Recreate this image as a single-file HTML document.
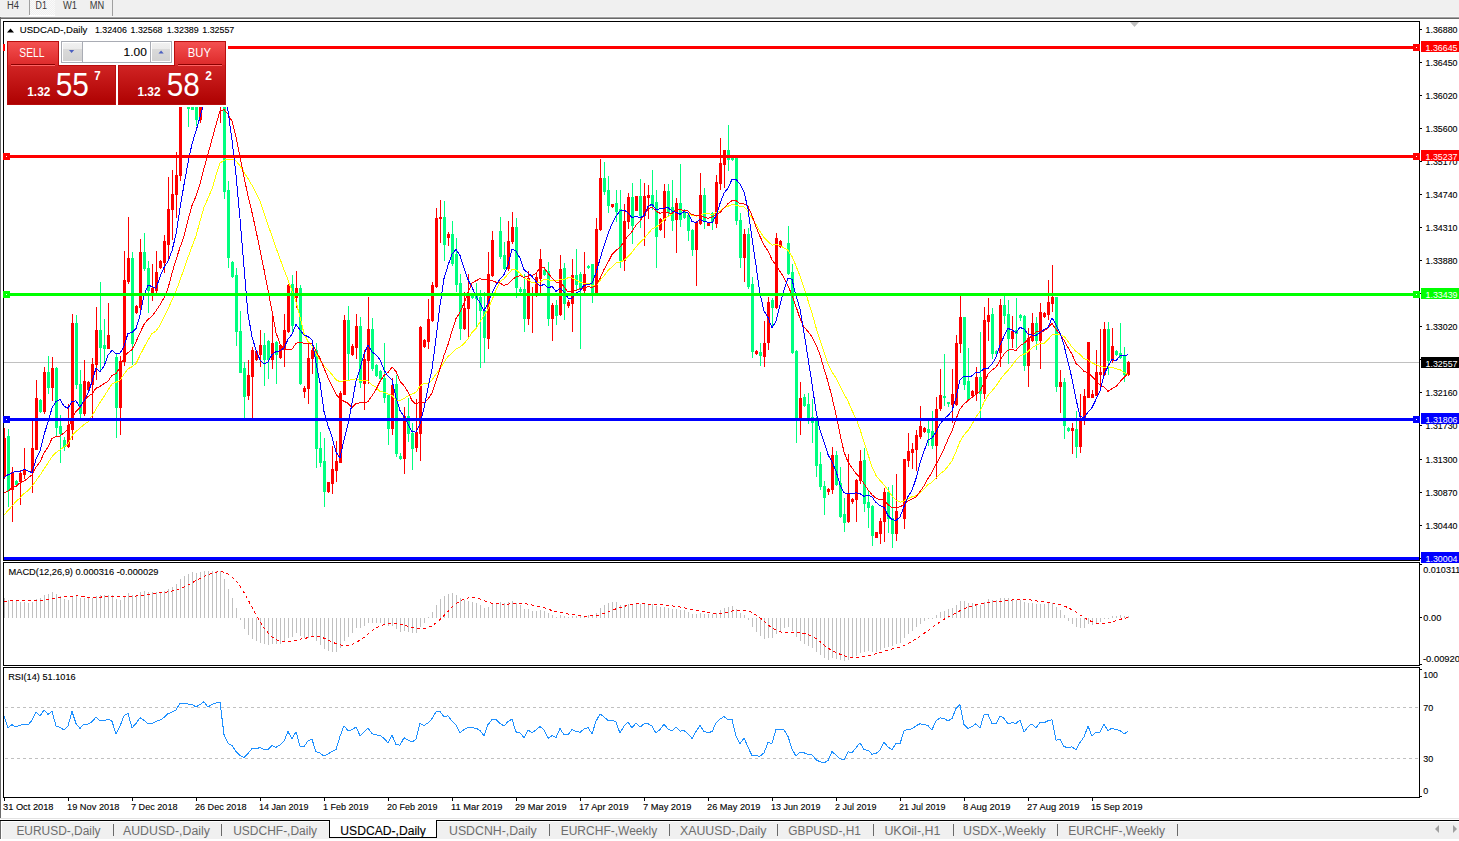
<!DOCTYPE html><html><head><meta charset="utf-8"><style>html,body{margin:0;padding:0;background:#fff;width:1459px;height:841px;overflow:hidden}svg{display:block;font-family:"Liberation Sans",sans-serif}text{font-family:"Liberation Sans",sans-serif}</style></head><body><svg width="1459" height="841" viewBox="0 0 1459 841"><defs><linearGradient id="gb" x1="0" y1="0" x2="0" y2="1"><stop offset="0" stop-color="#e63a3a"/><stop offset="1" stop-color="#ad0000"/></linearGradient><linearGradient id="gt" x1="0" y1="0" x2="0" y2="1"><stop offset="0" stop-color="#f55252"/><stop offset="1" stop-color="#dd2a2a"/></linearGradient><linearGradient id="gs" x1="0" y1="0" x2="0" y2="1"><stop offset="0" stop-color="#f1f1f1"/><stop offset="0.33" stop-color="#ebebeb"/><stop offset="0.34" stop-color="#dadada"/><stop offset="1" stop-color="#d2d2d2"/></linearGradient><pattern id="chk" width="2" height="2" patternUnits="userSpaceOnUse"><rect width="2" height="2" fill="#f0f0f0"/><rect width="1" height="1" fill="#fafafa"/><rect x="1" y="1" width="1" height="1" fill="#fafafa"/></pattern></defs><g shape-rendering="crispEdges"><rect x="0" y="0" width="1459" height="17" fill="#f0f0f0"/><rect x="29" y="0" width="26" height="15" fill="url(#chk)"/><rect x="29" y="0" width="1" height="15" fill="#a0a0a0"/><rect x="29" y="15" width="26" height="1" fill="#ffffff"/><rect x="112" y="0" width="1" height="17" fill="#a0a0a0"/><rect x="0" y="16" width="1459" height="1" fill="#f6f6f6"/><rect x="0" y="17" width="1459" height="1" fill="#a0a0a0"/><rect x="0" y="18" width="1459" height="1" fill="#696969"/><rect x="0" y="17" width="1" height="801" fill="#6a6a6a"/><rect x="1" y="818" width="1459" height="1" fill="#e3e3e3"/><rect x="0" y="819" width="1459" height="1" fill="#ffffff"/><rect x="0" y="820" width="1459" height="1" fill="#000000"/><rect x="0" y="821" width="1459" height="18" fill="#f0f0f0"/><rect x="1" y="821" width="1459" height="1" fill="#ffffff"/><rect x="1" y="821" width="1" height="18" fill="#ffffff"/><rect x="0" y="818" width="1" height="1" fill="#e3e3e3"/><rect x="0" y="821" width="1" height="18" fill="#6a6a6a"/><rect x="0" y="839" width="1459" height="2" fill="#ffffff"/></g><text x="7" y="9" font-size="10" fill="#3a3a3a" textLength="12" lengthAdjust="spacingAndGlyphs">H4</text><text x="35.6" y="9" font-size="10" fill="#3a3a3a" textLength="11.3" lengthAdjust="spacingAndGlyphs">D1</text><text x="63" y="9" font-size="10" fill="#3a3a3a" textLength="14" lengthAdjust="spacingAndGlyphs">W1</text><text x="89.8" y="9" font-size="10" fill="#3a3a3a" textLength="14.4" lengthAdjust="spacingAndGlyphs">MN</text><g shape-rendering="crispEdges" fill="none" stroke="#000" stroke-width="1"><rect x="3.5" y="21.5" width="1416" height="539"/><rect x="3.5" y="562.5" width="1416" height="103"/><rect x="3.5" y="667.5" width="1416" height="130"/></g><g shape-rendering="crispEdges"><rect x="1420" y="29" width="2" height="1" fill="#000"/><rect x="1420" y="62" width="2" height="1" fill="#000"/><rect x="1420" y="95" width="2" height="1" fill="#000"/><rect x="1420" y="128" width="2" height="1" fill="#000"/><rect x="1420" y="161" width="2" height="1" fill="#000"/><rect x="1420" y="194" width="2" height="1" fill="#000"/><rect x="1420" y="227" width="2" height="1" fill="#000"/><rect x="1420" y="260" width="2" height="1" fill="#000"/><rect x="1420" y="293" width="2" height="1" fill="#000"/><rect x="1420" y="326" width="2" height="1" fill="#000"/><rect x="1420" y="359" width="2" height="1" fill="#000"/><rect x="1420" y="392" width="2" height="1" fill="#000"/><rect x="1420" y="425" width="2" height="1" fill="#000"/><rect x="1420" y="459" width="2" height="1" fill="#000"/><rect x="1420" y="492" width="2" height="1" fill="#000"/><rect x="1420" y="525" width="2" height="1" fill="#000"/><rect x="1420" y="558" width="2" height="1" fill="#000"/></g><text x="1425.5" y="32.5" font-size="9.5" fill="#000" stroke="#000" stroke-width="0.12" textLength="32" lengthAdjust="spacingAndGlyphs">1.36880</text><text x="1425.5" y="65.5" font-size="9.5" fill="#000" stroke="#000" stroke-width="0.12" textLength="32" lengthAdjust="spacingAndGlyphs">1.36450</text><text x="1425.5" y="98.5" font-size="9.5" fill="#000" stroke="#000" stroke-width="0.12" textLength="32" lengthAdjust="spacingAndGlyphs">1.36020</text><text x="1425.5" y="131.5" font-size="9.5" fill="#000" stroke="#000" stroke-width="0.12" textLength="32" lengthAdjust="spacingAndGlyphs">1.35600</text><text x="1425.5" y="164.5" font-size="9.5" fill="#000" stroke="#000" stroke-width="0.12" textLength="32" lengthAdjust="spacingAndGlyphs">1.35170</text><text x="1425.5" y="197.5" font-size="9.5" fill="#000" stroke="#000" stroke-width="0.12" textLength="32" lengthAdjust="spacingAndGlyphs">1.34740</text><text x="1425.5" y="230.5" font-size="9.5" fill="#000" stroke="#000" stroke-width="0.12" textLength="32" lengthAdjust="spacingAndGlyphs">1.34310</text><text x="1425.5" y="263.5" font-size="9.5" fill="#000" stroke="#000" stroke-width="0.12" textLength="32" lengthAdjust="spacingAndGlyphs">1.33880</text><text x="1425.5" y="296.5" font-size="9.5" fill="#000" stroke="#000" stroke-width="0.12" textLength="32" lengthAdjust="spacingAndGlyphs">1.33450</text><text x="1425.5" y="329.5" font-size="9.5" fill="#000" stroke="#000" stroke-width="0.12" textLength="32" lengthAdjust="spacingAndGlyphs">1.33020</text><text x="1425.5" y="362.5" font-size="9.5" fill="#000" stroke="#000" stroke-width="0.12" textLength="32" lengthAdjust="spacingAndGlyphs">1.32590</text><text x="1425.5" y="395.5" font-size="9.5" fill="#000" stroke="#000" stroke-width="0.12" textLength="32" lengthAdjust="spacingAndGlyphs">1.32160</text><text x="1425.5" y="428.5" font-size="9.5" fill="#000" stroke="#000" stroke-width="0.12" textLength="32" lengthAdjust="spacingAndGlyphs">1.31730</text><text x="1425.5" y="462.5" font-size="9.5" fill="#000" stroke="#000" stroke-width="0.12" textLength="32" lengthAdjust="spacingAndGlyphs">1.31300</text><text x="1425.5" y="495.5" font-size="9.5" fill="#000" stroke="#000" stroke-width="0.12" textLength="32" lengthAdjust="spacingAndGlyphs">1.30870</text><text x="1425.5" y="528.5" font-size="9.5" fill="#000" stroke="#000" stroke-width="0.12" textLength="32" lengthAdjust="spacingAndGlyphs">1.30440</text><text x="1425.5" y="561.5" font-size="9.5" fill="#000" stroke="#000" stroke-width="0.12" textLength="32" lengthAdjust="spacingAndGlyphs">1.30010</text><g shape-rendering="crispEdges"><rect x="1420" y="564" width="2" height="1" fill="#000"/><rect x="1420" y="617" width="2" height="1" fill="#000"/><rect x="1420" y="664" width="2" height="1" fill="#000"/><rect x="1420" y="669" width="2" height="1" fill="#000"/><rect x="1420" y="796" width="2" height="1" fill="#000"/></g><text x="1423.3" y="573" font-size="9.5" fill="#000" stroke="#000" stroke-width="0.12" textLength="37" lengthAdjust="spacingAndGlyphs">0.010311</text><text x="1423.3" y="621" font-size="9.5" fill="#000" stroke="#000" stroke-width="0.12" textLength="18" lengthAdjust="spacingAndGlyphs">0.00</text><text x="1423" y="662" font-size="9.5" fill="#000" stroke="#000" stroke-width="0.12" textLength="37" lengthAdjust="spacingAndGlyphs">-0.00920</text><text x="1423.3" y="678" font-size="9.5" fill="#000" stroke="#000" stroke-width="0.12" textLength="14.5" lengthAdjust="spacingAndGlyphs">100</text><text x="1423.3" y="711" font-size="9.5" fill="#000" stroke="#000" stroke-width="0.12" textLength="10" lengthAdjust="spacingAndGlyphs">70</text><text x="1423.3" y="762" font-size="9.5" fill="#000" stroke="#000" stroke-width="0.12" textLength="10" lengthAdjust="spacingAndGlyphs">30</text><text x="1423.3" y="794" font-size="9.5" fill="#000" stroke="#000" stroke-width="0.12" textLength="5" lengthAdjust="spacingAndGlyphs">0</text><g shape-rendering="crispEdges"><rect x="4" y="798" width="1" height="3" fill="#000"/><rect x="68" y="798" width="1" height="3" fill="#000"/><rect x="132" y="798" width="1" height="3" fill="#000"/><rect x="196" y="798" width="1" height="3" fill="#000"/><rect x="260" y="798" width="1" height="3" fill="#000"/><rect x="324" y="798" width="1" height="3" fill="#000"/><rect x="388" y="798" width="1" height="3" fill="#000"/><rect x="452" y="798" width="1" height="3" fill="#000"/><rect x="516" y="798" width="1" height="3" fill="#000"/><rect x="580" y="798" width="1" height="3" fill="#000"/><rect x="644" y="798" width="1" height="3" fill="#000"/><rect x="708" y="798" width="1" height="3" fill="#000"/><rect x="772" y="798" width="1" height="3" fill="#000"/><rect x="836" y="798" width="1" height="3" fill="#000"/><rect x="900" y="798" width="1" height="3" fill="#000"/><rect x="964" y="798" width="1" height="3" fill="#000"/><rect x="1028" y="798" width="1" height="3" fill="#000"/><rect x="1092" y="798" width="1" height="3" fill="#000"/></g><text x="3" y="810" font-size="9.5" fill="#000" stroke="#000" stroke-width="0.12" textLength="50.5" lengthAdjust="spacingAndGlyphs">31 Oct 2018</text><text x="67" y="810" font-size="9.5" fill="#000" stroke="#000" stroke-width="0.12" textLength="52.5" lengthAdjust="spacingAndGlyphs">19 Nov 2018</text><text x="131" y="810" font-size="9.5" fill="#000" stroke="#000" stroke-width="0.12" textLength="46.5" lengthAdjust="spacingAndGlyphs">7 Dec 2018</text><text x="195" y="810" font-size="9.5" fill="#000" stroke="#000" stroke-width="0.12" textLength="51.5" lengthAdjust="spacingAndGlyphs">26 Dec 2018</text><text x="259" y="810" font-size="9.5" fill="#000" stroke="#000" stroke-width="0.12" textLength="49.5" lengthAdjust="spacingAndGlyphs">14 Jan 2019</text><text x="323" y="810" font-size="9.5" fill="#000" stroke="#000" stroke-width="0.12" textLength="45.5" lengthAdjust="spacingAndGlyphs">1 Feb 2019</text><text x="387" y="810" font-size="9.5" fill="#000" stroke="#000" stroke-width="0.12" textLength="50.5" lengthAdjust="spacingAndGlyphs">20 Feb 2019</text><text x="451" y="810" font-size="9.5" fill="#000" stroke="#000" stroke-width="0.12" textLength="51.5" lengthAdjust="spacingAndGlyphs">11 Mar 2019</text><text x="515" y="810" font-size="9.5" fill="#000" stroke="#000" stroke-width="0.12" textLength="51.5" lengthAdjust="spacingAndGlyphs">29 Mar 2019</text><text x="579" y="810" font-size="9.5" fill="#000" stroke="#000" stroke-width="0.12" textLength="49.5" lengthAdjust="spacingAndGlyphs">17 Apr 2019</text><text x="643" y="810" font-size="9.5" fill="#000" stroke="#000" stroke-width="0.12" textLength="48.5" lengthAdjust="spacingAndGlyphs">7 May 2019</text><text x="707" y="810" font-size="9.5" fill="#000" stroke="#000" stroke-width="0.12" textLength="53.5" lengthAdjust="spacingAndGlyphs">26 May 2019</text><text x="771" y="810" font-size="9.5" fill="#000" stroke="#000" stroke-width="0.12" textLength="49.5" lengthAdjust="spacingAndGlyphs">13 Jun 2019</text><text x="835" y="810" font-size="9.5" fill="#000" stroke="#000" stroke-width="0.12" textLength="41.5" lengthAdjust="spacingAndGlyphs">2 Jul 2019</text><text x="899" y="810" font-size="9.5" fill="#000" stroke="#000" stroke-width="0.12" textLength="46.5" lengthAdjust="spacingAndGlyphs">21 Jul 2019</text><text x="963" y="810" font-size="9.5" fill="#000" stroke="#000" stroke-width="0.12" textLength="47.5" lengthAdjust="spacingAndGlyphs">8 Aug 2019</text><text x="1027" y="810" font-size="9.5" fill="#000" stroke="#000" stroke-width="0.12" textLength="52.5" lengthAdjust="spacingAndGlyphs">27 Aug 2019</text><text x="1091" y="810" font-size="9.5" fill="#000" stroke="#000" stroke-width="0.12" textLength="51.5" lengthAdjust="spacingAndGlyphs">15 Sep 2019</text><svg x="4" y="22" width="1415" height="538" viewBox="4 22 1415 538" overflow="hidden"><g shape-rendering="crispEdges"><rect x="4" y="362" width="1415" height="1" fill="#c0c0c0"/></g><g shape-rendering="crispEdges"><path fill="#ff0000" d="M4 428h1v51h-1zM3 438h3v39h-3zM12 467h1v55h-1zM11 472h3v18h-3zM20 470h1v35h-1zM19 473h3v9h-3zM24 448h1v31h-1zM23 470h3v5h-3zM32 421h1v72h-1zM31 448h3v25h-3zM36 380h1v70h-1zM35 398h3v52h-3zM44 367h1v47h-1zM43 372h3v40h-3zM52 357h1v44h-1zM51 368h3v20h-3zM68 404h1v44h-1zM67 425h3v22h-3zM72 314h1v126h-1zM71 323h3v107h-3zM84 360h1v56h-1zM83 381h3v33h-3zM88 381h1v10h-1zM87 382h3v8h-3zM92 358h1v60h-1zM91 364h3v21h-3zM96 307h1v73h-1zM95 330h3v35h-3zM108 303h1v46h-1zM107 335h3v14h-3zM120 356h1v79h-1zM119 361h3v47h-3zM124 251h1v115h-1zM123 280h3v82h-3zM128 217h1v67h-1zM127 258h3v24h-3zM136 305h1v9h-1zM135 306h3v7h-3zM140 239h1v72h-1zM139 252h3v56h-3zM152 264h1v37h-1zM151 288h3v5h-3zM156 251h1v43h-1zM155 272h3v19h-3zM160 260h1v9h-1zM159 261h3v7h-3zM164 235h1v38h-1zM163 241h3v22h-3zM168 177h1v84h-1zM167 209h3v36h-3zM172 170h1v70h-1zM171 194h3v16h-3zM176 152h1v66h-1zM175 175h3v20h-3zM180 100h1v81h-1zM179 107h3v69h-3zM200 80h1v43h-1zM199 97h3v23h-3zM204 65h1v36h-1zM203 71h3v27h-3zM212 60h1v33h-1zM211 67h3v23h-3zM216 50h1v26h-1zM215 55h3v13h-3zM220 47h1v76h-1zM219 47h3v9h-3zM248 360h1v40h-1zM247 375h3v21h-3zM252 347h1v71h-1zM251 350h3v27h-3zM256 351h1v10h-1zM255 351h3v9h-3zM260 330h1v37h-1zM259 345h3v10h-3zM272 315h1v54h-1zM271 343h3v17h-3zM280 344h1v15h-1zM279 345h3v13h-3zM284 314h1v53h-1zM283 330h3v20h-3zM288 284h1v49h-1zM287 285h3v47h-3zM296 271h1v37h-1zM295 288h3v10h-3zM304 386h1v12h-1zM303 388h3v4h-3zM308 341h1v63h-1zM307 358h3v31h-3zM312 341h1v33h-1zM311 350h3v9h-3zM328 482h1v11h-1zM327 482h3v10h-3zM332 446h1v48h-1zM331 469h3v15h-3zM336 441h1v41h-1zM335 461h3v10h-3zM340 391h1v72h-1zM339 393h3v70h-3zM344 315h1v80h-1zM343 320h3v75h-3zM352 344h1v12h-1zM351 346h3v9h-3zM356 314h1v45h-1zM355 326h3v22h-3zM364 350h1v60h-1zM363 359h3v25h-3zM368 297h1v87h-1zM367 329h3v32h-3zM392 378h1v57h-1zM391 385h3v44h-3zM404 407h1v67h-1zM403 416h3v43h-3zM416 399h1v53h-1zM415 432h3v16h-3zM420 326h1v135h-1zM419 327h3v107h-3zM424 339h1v9h-1zM423 340h3v7h-3zM428 299h1v50h-1zM427 319h3v23h-3zM432 282h1v40h-1zM431 285h3v36h-3zM436 208h1v80h-1zM435 218h3v69h-3zM440 200h1v43h-1zM439 217h3v2h-3zM448 232h1v14h-1zM447 234h3v4h-3zM464 292h1v38h-1zM463 308h3v21h-3zM468 274h1v64h-1zM467 296h3v13h-3zM488 252h1v97h-1zM487 274h3v65h-3zM492 231h1v46h-1zM491 240h3v36h-3zM508 221h1v50h-1zM507 241h3v28h-3zM512 212h1v32h-1zM511 227h3v15h-3zM528 271h1v54h-1zM527 278h3v41h-3zM532 287h1v46h-1zM531 293h3v3h-3zM536 273h1v24h-1zM535 277h3v18h-3zM540 249h1v44h-1zM539 259h3v20h-3zM552 303h1v38h-1zM551 305h3v14h-3zM560 255h1v61h-1zM559 269h3v46h-3zM568 300h1v8h-1zM567 302h3v4h-3zM572 259h1v73h-1zM571 275h3v29h-3zM584 252h1v42h-1zM583 274h3v17h-3zM596 218h1v77h-1zM595 229h3v65h-3zM600 159h1v72h-1zM599 178h3v52h-3zM612 204h1v4h-1zM611 204h3v3h-3zM624 204h1v67h-1zM623 221h3v40h-3zM628 193h1v36h-1zM627 197h3v25h-3zM636 196h1v15h-1zM635 196h3v15h-3zM644 183h1v63h-1zM643 196h3v20h-3zM648 185h1v34h-1zM647 195h3v3h-3zM660 218h1v13h-1zM659 219h3v11h-3zM664 184h1v54h-1zM663 191h3v30h-3zM676 198h1v55h-1zM675 203h3v17h-3zM696 221h1v65h-1zM695 222h3v28h-3zM700 173h1v52h-1zM699 195h3v29h-3zM708 222h1v4h-1zM707 222h3v4h-3zM716 175h1v53h-1zM715 182h3v42h-3zM720 138h1v52h-1zM719 163h3v21h-3zM724 150h1v38h-1zM723 150h3v15h-3zM744 229h1v53h-1zM743 234h3v24h-3zM756 350h1v5h-1zM755 351h3v3h-3zM764 321h1v46h-1zM763 343h3v14h-3zM768 297h1v53h-1zM767 302h3v41h-3zM776 233h1v76h-1zM775 238h3v70h-3zM780 240h1v8h-1zM779 241h3v6h-3zM800 382h1v53h-1zM799 398h3v21h-3zM828 488h1v7h-1zM827 489h3v3h-3zM832 447h1v47h-1zM831 455h3v35h-3zM848 454h1v69h-1zM847 493h3v29h-3zM852 498h1v6h-1zM851 499h3v3h-3zM856 479h1v43h-1zM855 480h3v20h-3zM860 450h1v34h-1zM859 461h3v20h-3zM876 532h1v6h-1zM875 532h3v6h-3zM880 518h1v26h-1zM879 521h3v13h-3zM884 488h1v54h-1zM883 492h3v30h-3zM896 474h1v67h-1zM895 511h3v23h-3zM904 459h1v70h-1zM903 459h3v60h-3zM908 433h1v34h-1zM907 451h3v10h-3zM912 443h1v26h-1zM911 449h3v4h-3zM916 430h1v41h-1zM915 435h3v15h-3zM920 406h1v33h-1zM919 426h3v11h-3zM924 427h1v6h-1zM923 428h3v4h-3zM936 397h1v82h-1zM935 409h3v37h-3zM940 369h1v42h-1zM939 395h3v14h-3zM952 369h1v54h-1zM951 394h3v11h-3zM956 335h1v71h-1zM955 343h3v62h-3zM960 296h1v57h-1zM959 317h3v27h-3zM972 390h1v7h-1zM971 391h3v5h-3zM976 367h1v34h-1zM975 377h3v17h-3zM984 307h1v92h-1zM983 320h3v74h-3zM988 298h1v43h-1zM987 315h3v7h-3zM1000 299h1v68h-1zM999 305h3v48h-3zM1012 316h1v32h-1zM1011 331h3v8h-3zM1028 328h1v59h-1zM1027 338h3v28h-3zM1032 313h1v29h-1zM1031 323h3v18h-3zM1040 303h1v66h-1zM1039 312h3v29h-3zM1044 312h1v6h-1zM1043 313h3v4h-3zM1048 280h1v40h-1zM1047 302h3v13h-3zM1052 265h1v47h-1zM1051 297h3v7h-3zM1060 370h1v43h-1zM1059 382h3v5h-3zM1072 423h1v31h-1zM1071 428h3v3h-3zM1080 394h1v59h-1zM1079 418h3v29h-3zM1084 389h1v36h-1zM1083 396h3v23h-3zM1088 342h1v56h-1zM1087 342h3v56h-3zM1092 390h1v8h-1zM1091 394h3v4h-3zM1096 350h1v46h-1zM1095 372h3v24h-3zM1100 329h1v60h-1zM1099 372h3v3h-3zM1104 322h1v54h-1zM1103 329h3v46h-3zM1112 328h1v35h-1zM1111 346h3v15h-3zM1128 361h1v15h-1zM1127 362h3v13h-3z"/><path fill="#00ff7f" d="M8 429h1v78h-1zM7 436h3v55h-3zM16 480h1v6h-1zM15 481h3v4h-3zM40 399h1v14h-1zM39 400h3v12h-3zM48 356h1v38h-1zM47 372h3v16h-3zM56 367h1v69h-1zM55 368h3v60h-3zM60 415h1v48h-1zM59 426h3v8h-3zM64 437h1v14h-1zM63 440h3v7h-3zM76 315h1v74h-1zM75 323h3v62h-3zM80 370h1v48h-1zM79 384h3v30h-3zM100 282h1v90h-1zM99 330h3v18h-3zM104 319h1v47h-1zM103 345h3v4h-3zM116 353h1v85h-1zM115 357h3v51h-3zM132 252h1v113h-1zM131 258h3v86h-3zM144 233h1v38h-1zM143 252h3v17h-3zM148 261h1v52h-1zM147 268h3v23h-3zM184 95h1v12h-1zM183 98h3v8h-3zM188 88h1v39h-1zM187 95h3v14h-3zM192 100h1v10h-1zM191 104h3v6h-3zM196 90h1v36h-1zM195 98h3v22h-3zM208 68h1v25h-1zM207 71h3v19h-3zM224 47h1v152h-1zM223 49h3v143h-3zM228 181h1v87h-1zM227 190h3v68h-3zM232 261h1v17h-1zM231 262h3v15h-3zM236 268h1v78h-1zM235 275h3v57h-3zM240 311h1v62h-1zM239 331h3v42h-3zM244 362h1v56h-1zM243 368h3v29h-3zM264 333h1v53h-1zM263 345h3v15h-3zM268 340h1v39h-1zM267 341h3v19h-3zM276 341h1v43h-1zM275 342h3v13h-3zM292 275h1v57h-1zM291 284h3v42h-3zM300 285h1v100h-1zM299 288h3v96h-3zM316 343h1v125h-1zM315 350h3v99h-3zM320 432h1v35h-1zM319 448h3v15h-3zM324 438h1v69h-1zM323 461h3v31h-3zM348 306h1v75h-1zM347 320h3v34h-3zM360 317h1v71h-1zM359 326h3v57h-3zM372 318h1v53h-1zM371 329h3v40h-3zM376 364h1v13h-1zM375 365h3v11h-3zM380 370h1v10h-1zM379 371h3v8h-3zM384 343h1v60h-1zM383 378h3v20h-3zM388 394h1v51h-1zM387 395h3v34h-3zM396 375h1v82h-1zM395 384h3v70h-3zM400 453h1v7h-1zM399 456h3v3h-3zM408 398h1v44h-1zM407 416h3v18h-3zM412 423h1v47h-1zM411 433h3v16h-3zM444 201h1v60h-1zM443 217h3v28h-3zM452 221h1v45h-1zM451 234h3v30h-3zM456 238h1v54h-1zM455 254h3v31h-3zM460 274h1v66h-1zM459 283h3v46h-3zM472 294h1v5h-1zM471 295h3v3h-3zM476 283h1v46h-1zM475 295h3v4h-3zM480 290h1v78h-1zM479 297h3v14h-3zM484 292h1v71h-1zM483 310h3v28h-3zM500 217h1v42h-1zM499 231h3v26h-3zM504 242h1v28h-1zM503 255h3v14h-3zM516 218h1v80h-1zM515 227h3v61h-3zM520 287h1v6h-1zM519 289h3v3h-3zM524 274h1v58h-1zM523 289h3v30h-3zM544 268h1v8h-1zM543 270h3v5h-3zM548 262h1v64h-1zM547 271h3v48h-3zM556 300h1v25h-1zM555 305h3v11h-3zM564 263h1v57h-1zM563 268h3v36h-3zM576 249h1v42h-1zM575 275h3v10h-3zM580 272h1v77h-1zM579 274h3v16h-3zM588 265h1v4h-1zM587 266h3v2h-3zM592 264h1v39h-1zM591 264h3v30h-3zM604 162h1v33h-1zM603 178h3v14h-3zM608 176h1v37h-1zM607 190h3v16h-3zM616 190h1v32h-1zM615 203h3v9h-3zM620 190h1v78h-1zM619 209h3v52h-3zM632 183h1v61h-1zM631 197h3v29h-3zM640 179h1v49h-1zM639 196h3v20h-3zM652 170h1v40h-1zM651 195h3v11h-3zM656 190h1v78h-1zM655 202h3v35h-3zM668 184h1v32h-1zM667 191h3v22h-3zM672 180h1v51h-1zM671 207h3v14h-3zM680 164h1v63h-1zM679 203h3v17h-3zM684 209h1v10h-1zM683 210h3v8h-3zM688 215h1v26h-1zM687 215h3v16h-3zM692 229h1v27h-1zM691 230h3v20h-3zM704 188h1v41h-1zM703 195h3v26h-3zM712 212h1v18h-1zM711 213h3v9h-3zM728 125h1v46h-1zM727 150h3v10h-3zM732 157h1v4h-1zM731 157h3v3h-3zM736 157h1v68h-1zM735 157h3v64h-3zM740 213h1v55h-1zM739 220h3v38h-3zM748 228h1v61h-1zM747 234h3v53h-3zM752 277h1v81h-1zM751 284h3v68h-3zM760 343h1v23h-1zM759 352h3v4h-3zM772 298h1v30h-1zM771 300h3v8h-3zM788 226h1v49h-1zM787 243h3v31h-3zM792 264h1v90h-1zM791 272h3v81h-3zM796 350h1v93h-1zM795 351h3v68h-3zM804 394h1v13h-1zM803 397h3v9h-3zM808 393h1v31h-1zM807 404h3v15h-3zM812 399h1v44h-1zM811 417h3v6h-3zM816 417h1v60h-1zM815 418h3v48h-3zM820 452h1v38h-1zM819 464h3v23h-3zM824 481h1v34h-1zM823 486h3v12h-3zM836 451h1v35h-1zM835 455h3v30h-3zM840 467h1v51h-1zM839 483h3v34h-3zM844 498h1v34h-1zM843 514h3v9h-3zM864 448h1v64h-1zM863 460h3v44h-3zM868 490h1v38h-1zM867 502h3v6h-3zM872 505h1v41h-1zM871 506h3v30h-3zM888 487h1v46h-1zM887 492h3v27h-3zM892 485h1v63h-1zM891 518h3v16h-3zM928 421h1v25h-1zM927 429h3v4h-3zM932 411h1v38h-1zM931 431h3v15h-3zM944 354h1v52h-1zM943 396h3v2h-3zM948 402h1v5h-1zM947 402h3v2h-3zM964 317h1v73h-1zM963 317h3v68h-3zM968 348h1v53h-1zM967 381h3v19h-3zM980 332h1v87h-1zM979 377h3v17h-3zM992 308h1v51h-1zM991 314h3v40h-3zM996 350h1v5h-1zM995 351h3v3h-3zM1004 295h1v29h-1zM1003 305h3v11h-3zM1008 300h1v64h-1zM1007 314h3v25h-3zM1016 298h1v50h-1zM1015 330h3v4h-3zM1020 314h1v7h-1zM1019 315h3v3h-3zM1024 315h1v56h-1zM1023 316h3v50h-3zM1036 317h1v33h-1zM1035 323h3v18h-3zM1056 297h1v95h-1zM1055 297h3v90h-3zM1064 378h1v61h-1zM1063 382h3v44h-3zM1068 427h1v5h-1zM1067 428h3v3h-3zM1076 411h1v47h-1zM1075 429h3v18h-3zM1108 322h1v53h-1zM1107 329h3v32h-3zM1116 350h1v6h-1zM1115 351h3v4h-3zM1120 323h1v36h-1zM1119 353h3v5h-3zM1124 347h1v35h-1zM1123 356h3v19h-3z"/></g><g fill="none" stroke-width="1" shape-rendering="crispEdges"><path stroke="#ffff00" d="M4,515.3 L8,510.5 L12,506.2 L16,501.5 L20,497.9 L24,493.5 L28,490.6 L32,486.1 L36,480.7 L40,475.2 L44,469.1 L48,462.8 L52,456.7 L56,452.5 L60,449.8 L64,446.8 L68,444.1 L72,435.7 L76,431.6 L80,428.1 L84,424.5 L88,421.8 L92,415.8 L96,409.0 L100,402.5 L104,396.6 L108,390.1 L112,384.1 L116,382.2 L120,380.4 L124,374.2 L128,368.8 L132,366.7 L136,363.7 L140,355.4 L144,347.5 L148,340.1 L152,333.6 L156,331.1 L160,325.3 L164,317.1 L168,308.9 L172,300.0 L176,291.0 L180,280.3 L184,268.8 L188,257.4 L192,246.6 L196,235.9 L200,221.1 L204,207.3 L208,198.2 L212,189.1 L216,175.4 L220,163.0 L224,160.1 L228,159.6 L232,159.0 L236,161.0 L240,165.8 L244,172.2 L248,178.6 L252,185.3 L256,192.8 L260,200.9 L264,212.9 L268,225.0 L272,236.1 L276,247.8 L280,258.6 L284,269.7 L288,279.9 L292,291.1 L296,301.6 L300,317.2 L304,333.5 L308,341.4 L312,345.9 L316,354.0 L320,360.3 L324,366.0 L328,370.0 L332,374.5 L336,379.8 L340,381.8 L344,380.6 L348,380.3 L352,379.7 L356,378.9 L360,380.2 L364,380.9 L368,380.9 L372,384.8 L376,387.2 L380,391.5 L384,392.1 L388,394.0 L392,395.3 L396,400.2 L400,400.7 L404,398.5 L408,395.8 L412,394.1 L416,392.4 L420,386.0 L424,383.5 L428,383.4 L432,380.2 L436,374.1 L440,368.9 L444,362.3 L448,356.4 L452,353.2 L456,349.2 L460,347.0 L464,343.7 L468,338.9 L472,332.6 L476,328.5 L480,321.7 L484,315.9 L488,309.1 L492,300.0 L496,290.0 L500,281.6 L504,278.8 L508,274.0 L512,269.7 L516,269.8 L520,273.2 L524,278.0 L528,279.7 L532,282.5 L536,283.1 L540,282.0 L544,279.4 L548,279.9 L552,280.3 L556,281.1 L560,279.8 L564,279.4 L568,277.8 L572,277.8 L576,279.9 L580,282.3 L584,283.2 L588,283.1 L592,285.6 L596,285.7 L600,280.5 L604,275.8 L608,270.4 L612,266.9 L616,263.0 L620,262.1 L624,260.3 L628,256.7 L632,252.2 L636,247.0 L640,242.3 L644,238.8 L648,233.7 L652,229.0 L656,227.2 L660,224.1 L664,219.4 L668,216.5 L672,214.2 L676,210.0 L680,209.5 L684,211.3 L688,213.2 L692,215.3 L696,216.1 L700,215.4 L704,213.5 L708,213.5 L712,214.7 L716,212.6 L720,211.0 L724,208.0 L728,206.2 L732,204.5 L736,205.2 L740,206.2 L744,206.9 L748,211.4 L752,218.0 L756,224.3 L760,231.5 L764,237.4 L768,241.5 L772,245.1 L776,244.6 L780,245.5 L784,247.8 L788,250.3 L792,256.5 L796,265.9 L800,276.1 L804,287.7 L808,300.4 L812,313.0 L816,327.5 L820,340.2 L824,351.6 L828,363.8 L832,371.8 L836,378.1 L840,386.0 L844,394.0 L848,401.1 L852,410.5 L856,418.7 L860,429.3 L864,441.8 L868,454.4 L872,466.9 L876,475.5 L880,480.4 L884,484.9 L888,490.2 L892,495.7 L896,500.0 L900,502.2 L904,500.9 L908,498.7 L912,496.8 L916,495.9 L920,493.1 L924,488.9 L928,484.6 L932,482.3 L936,478.0 L940,474.0 L944,471.0 L948,466.2 L952,460.8 L956,451.7 L960,441.4 L964,434.9 L968,430.5 L972,424.4 L976,417.0 L980,411.4 L984,402.2 L988,395.4 L992,390.7 L996,386.1 L1000,380.0 L1004,374.7 L1008,370.4 L1012,365.6 L1016,360.2 L1020,355.9 L1024,354.4 L1028,351.6 L1032,347.8 L1036,345.2 L1040,343.8 L1044,343.6 L1048,339.7 L1052,334.8 L1056,334.6 L1060,334.8 L1064,336.3 L1068,341.6 L1072,347.0 L1076,351.4 L1080,354.5 L1084,358.8 L1088,360.1 L1092,362.8 L1096,364.7 L1100,366.6 L1104,367.1 L1108,366.9 L1112,367.3 L1116,368.8 L1120,369.6 L1124,372.5 L1128,374.9"/><path stroke="#ff0000" d="M4,492.8 L8,491.3 L12,487.5 L16,486.3 L20,482.9 L24,481.2 L28,478.0 L32,475.0 L36,467.0 L40,462.0 L44,452.9 L48,447.0 L52,438.5 L56,436.4 L60,436.0 L64,432.9 L68,429.5 L72,418.0 L76,411.6 L80,407.6 L84,401.1 L88,396.4 L92,394.0 L96,388.2 L100,386.4 L104,383.6 L108,381.3 L112,375.4 L116,373.6 L120,367.5 L124,357.1 L128,352.5 L132,349.6 L136,341.9 L140,332.7 L144,324.6 L148,319.3 L152,316.3 L156,310.9 L160,304.7 L164,298.0 L168,288.3 L172,273.1 L176,259.8 L180,247.4 L184,236.5 L188,219.7 L192,205.6 L196,196.1 L200,183.9 L204,168.3 L208,154.1 L212,139.4 L216,124.7 L220,110.9 L224,109.6 L228,114.1 L232,121.3 L236,137.3 L240,156.4 L244,176.9 L248,195.9 L252,212.4 L256,230.6 L260,250.1 L264,269.4 L268,290.3 L272,310.9 L276,332.8 L280,343.8 L284,349.0 L288,349.6 L292,349.2 L296,343.2 L300,342.3 L304,343.2 L308,343.8 L312,343.7 L316,351.1 L320,358.4 L324,367.9 L328,377.8 L332,386.0 L336,394.3 L340,398.8 L344,401.3 L348,403.3 L352,407.4 L356,403.4 L360,402.9 L364,403.0 L368,401.5 L372,395.8 L376,389.6 L380,381.5 L384,375.4 L388,372.5 L392,367.1 L396,371.4 L400,381.2 L404,385.7 L408,391.9 L412,400.6 L416,404.2 L420,401.9 L424,402.7 L428,399.2 L432,392.8 L436,381.4 L440,368.5 L444,355.4 L448,344.6 L452,331.0 L456,318.6 L460,312.3 L464,303.4 L468,292.5 L472,282.9 L476,280.8 L480,278.6 L484,279.9 L488,279.1 L492,280.7 L496,282.2 L500,283.1 L504,285.5 L508,283.9 L512,279.9 L516,276.9 L520,275.7 L524,277.3 L528,275.9 L532,275.6 L536,273.2 L540,267.6 L544,267.6 L548,273.2 L552,278.0 L556,282.2 L560,282.3 L564,286.7 L568,292.1 L572,291.2 L576,290.7 L580,288.6 L584,288.4 L588,286.5 L592,287.6 L596,285.5 L600,278.6 L604,269.6 L608,262.4 L612,254.5 L616,250.4 L620,247.3 L624,241.5 L628,235.9 L632,231.7 L636,225.1 L640,220.9 L644,215.8 L648,208.8 L652,207.1 L656,211.2 L660,213.2 L664,212.2 L668,212.8 L672,213.4 L676,209.4 L680,209.2 L684,210.6 L688,211.0 L692,214.8 L696,215.3 L700,215.2 L704,217.0 L708,218.2 L712,217.1 L716,214.5 L720,212.5 L724,208.1 L728,203.7 L732,200.6 L736,200.6 L740,203.5 L744,203.8 L748,206.4 L752,215.6 L756,226.8 L760,236.4 L764,245.1 L768,250.9 L772,259.8 L776,265.1 L780,271.6 L784,277.6 L788,285.7 L792,295.1 L796,306.6 L800,318.4 L804,326.9 L808,331.6 L812,336.7 L816,344.6 L820,354.8 L824,368.7 L828,381.7 L832,397.2 L836,414.6 L840,434.1 L844,451.9 L848,462.0 L852,467.8 L856,473.6 L860,477.6 L864,483.7 L868,489.8 L872,494.8 L876,498.1 L880,499.8 L884,500.0 L888,504.5 L892,508.0 L896,507.6 L900,506.9 L904,504.5 L908,501.1 L912,498.9 L916,497.0 L920,491.5 L924,485.9 L928,478.5 L932,472.3 L936,464.3 L940,457.4 L944,448.7 L948,439.4 L952,431.1 L956,419.0 L960,408.9 L964,404.1 L968,400.5 L972,397.4 L976,393.9 L980,391.4 L984,383.4 L988,374.1 L992,370.1 L996,367.1 L1000,360.5 L1004,354.2 L1008,350.2 L1012,349.4 L1016,350.5 L1020,345.7 L1024,343.3 L1028,339.5 L1032,335.6 L1036,331.9 L1040,331.3 L1044,331.1 L1048,327.5 L1052,323.5 L1056,329.3 L1060,334.1 L1064,340.3 L1068,347.4 L1072,354.1 L1076,363.4 L1080,367.1 L1084,371.3 L1088,372.6 L1092,376.5 L1096,380.8 L1100,385.0 L1104,386.9 L1108,391.4 L1112,388.6 L1116,386.6 L1120,381.7 L1124,377.7 L1128,373.0"/><path stroke="#0000ff" d="M4,477.5 L8,474.6 L12,473.2 L16,471.1 L20,471.6 L24,469.2 L28,471.1 L32,472.6 L36,459.4 L40,450.7 L44,434.7 L48,422.4 L52,407.9 L56,401.6 L60,399.4 L64,406.3 L68,408.3 L72,401.3 L76,400.9 L80,407.3 L84,400.7 L88,393.4 L92,381.7 L96,368.1 L100,371.6 L104,366.4 L108,355.3 L112,350.1 L116,353.7 L120,353.3 L124,346.1 L128,333.4 L132,332.7 L136,328.6 L140,315.3 L144,295.4 L148,285.3 L152,286.4 L156,288.4 L160,276.7 L164,267.4 L168,261.3 L172,250.7 L176,234.3 L180,208.4 L184,184.6 L188,162.7 L192,143.9 L196,131.0 L200,117.1 L204,102.3 L208,99.7 L212,94.3 L216,86.7 L220,77.9 L224,88.1 L228,111.0 L232,140.3 L236,174.9 L240,218.4 L244,267.1 L248,314.0 L252,336.7 L256,350.1 L260,360.0 L264,364.0 L268,362.1 L272,354.6 L276,351.6 L280,350.9 L284,347.9 L288,339.3 L292,334.4 L296,324.3 L300,330.0 L304,334.9 L308,336.7 L312,339.6 L316,362.9 L320,382.4 L324,411.4 L328,425.6 L332,437.1 L336,451.9 L340,458.0 L344,439.7 L348,424.1 L352,403.4 L356,381.1 L360,368.7 L364,354.1 L368,345.0 L372,351.9 L376,355.0 L380,359.6 L384,369.7 L388,376.3 L392,380.0 L396,397.7 L400,410.6 L404,416.4 L408,424.3 L412,431.6 L416,432.1 L420,423.9 L424,407.7 L428,387.9 L432,369.1 L436,338.4 L440,305.4 L444,278.6 L448,265.3 L452,254.3 L456,249.3 L460,255.4 L464,268.3 L468,279.6 L472,287.1 L476,296.3 L480,303.0 L484,310.6 L488,302.9 L492,293.1 L496,284.9 L500,279.0 L504,274.7 L508,264.9 L512,249.1 L516,251.0 L520,258.3 L524,269.7 L528,272.9 L532,276.4 L536,281.6 L540,286.1 L544,284.3 L548,288.1 L552,286.3 L556,291.6 L560,288.1 L564,291.9 L568,298.0 L572,298.1 L576,293.3 L580,291.0 L584,285.1 L588,284.9 L592,283.4 L596,273.0 L600,259.1 L604,245.9 L608,233.9 L612,223.9 L616,215.9 L620,211.1 L624,210.0 L628,212.7 L632,217.6 L636,216.3 L640,217.9 L644,215.7 L648,206.4 L652,204.1 L656,209.7 L660,208.9 L664,208.1 L668,207.7 L672,211.1 L676,212.3 L680,214.3 L684,211.6 L688,213.1 L692,221.4 L696,222.9 L700,219.3 L704,221.7 L708,222.1 L712,222.7 L716,215.9 L720,203.6 L724,193.3 L728,188.1 L732,179.4 L736,179.1 L740,184.3 L744,191.7 L748,209.3 L752,238.0 L756,265.4 L760,293.4 L764,311.0 L768,317.4 L772,327.9 L776,321.0 L780,305.3 L784,289.7 L788,278.0 L792,279.3 L796,295.9 L800,308.9 L804,332.7 L808,358.0 L812,383.7 L816,411.1 L820,430.3 L824,441.6 L828,454.6 L832,461.7 L836,471.1 L840,484.6 L844,492.7 L848,493.7 L852,494.0 L856,492.7 L860,493.6 L864,496.3 L868,495.0 L872,496.9 L876,502.4 L880,505.6 L884,507.3 L888,515.4 L892,519.7 L896,520.3 L900,517.0 L904,506.6 L908,496.6 L912,490.4 L916,478.6 L920,463.3 L924,451.4 L928,440.0 L932,438.0 L936,432.0 L940,424.3 L944,418.9 L948,415.6 L952,410.7 L956,398.0 L960,379.7 L964,376.1 L968,376.7 L972,375.9 L976,372.1 L980,372.0 L984,368.7 L988,368.4 L992,364.0 L996,357.4 L1000,345.1 L1004,336.3 L1008,328.4 L1012,330.0 L1016,332.6 L1020,327.4 L1024,329.1 L1028,333.9 L1032,335.0 L1036,335.3 L1040,332.6 L1044,329.7 L1048,327.6 L1052,317.9 L1056,324.7 L1060,333.1 L1064,345.3 L1068,362.1 L1072,378.6 L1076,399.1 L1080,416.4 L1084,417.9 L1088,412.1 L1092,407.7 L1096,399.4 L1100,391.4 L1104,374.7 L1108,366.4 L1112,359.3 L1116,361.0 L1120,355.7 L1124,356.0 L1128,354.6"/></g><g shape-rendering="crispEdges"><rect x="4" y="46" width="1415" height="3" fill="#ff0000"/><rect x="4" y="155" width="1415" height="3" fill="#ff0000"/><rect x="4" y="293" width="1415" height="3" fill="#00ff00"/><rect x="4" y="418" width="1415" height="3" fill="#0000ff"/><rect x="4" y="557" width="1415" height="3" fill="#0000ff"/></g></svg><g shape-rendering="crispEdges"><rect x="3" y="44" width="7" height="7" fill="#ff0000"/><rect x="6" y="47" width="1" height="1" fill="#fff"/><rect x="1413" y="44" width="7" height="7" fill="#ff0000"/><rect x="1416" y="47" width="1" height="1" fill="#fff"/><rect x="3" y="153" width="7" height="7" fill="#ff0000"/><rect x="6" y="156" width="1" height="1" fill="#fff"/><rect x="1413" y="153" width="7" height="7" fill="#ff0000"/><rect x="1416" y="156" width="1" height="1" fill="#fff"/><rect x="3" y="291" width="7" height="7" fill="#00ff00"/><rect x="6" y="294" width="1" height="1" fill="#fff"/><rect x="1413" y="291" width="7" height="7" fill="#00ff00"/><rect x="1416" y="294" width="1" height="1" fill="#fff"/><rect x="3" y="416" width="7" height="7" fill="#0000ff"/><rect x="6" y="419" width="1" height="1" fill="#fff"/><rect x="1413" y="416" width="7" height="7" fill="#0000ff"/><rect x="1416" y="419" width="1" height="1" fill="#fff"/></g><g shape-rendering="crispEdges"><rect x="1421" y="41" width="38" height="11" fill="#ff0000"/><rect x="1421" y="150" width="38" height="11" fill="#ff0000"/><rect x="1421" y="288" width="38" height="11" fill="#00ff00"/><rect x="1421" y="357" width="38" height="11" fill="#000000"/><rect x="1421" y="413" width="38" height="11" fill="#0000ff"/><rect x="1421" y="552" width="38" height="11" fill="#0000ff"/></g><text x="1425.5" y="50.5" font-size="9.5" fill="#fff" textLength="32" lengthAdjust="spacingAndGlyphs">1.36645</text><text x="1425.5" y="159.5" font-size="9.5" fill="#fff" textLength="32" lengthAdjust="spacingAndGlyphs">1.35237</text><text x="1425.5" y="297.5" font-size="9.5" fill="#fff" textLength="32" lengthAdjust="spacingAndGlyphs">1.33439</text><text x="1425.5" y="366.5" font-size="9.5" fill="#fff" textLength="32" lengthAdjust="spacingAndGlyphs">1.32557</text><text x="1425.5" y="422.5" font-size="9.5" fill="#fff" textLength="32" lengthAdjust="spacingAndGlyphs">1.31806</text><text x="1425.5" y="561.5" font-size="9.5" fill="#fff" textLength="32" lengthAdjust="spacingAndGlyphs">1.30004</text><path d="M1130 22H1139L1134.5 27Z" fill="#c0c0c0"/><g shape-rendering="crispEdges"><rect x="5" y="38" width="223" height="69" fill="#ffffff"/></g><path d="M7 41H59V65H116V105H7Z" fill="url(#gb)"/><path d="M7 41H59V65H7Z" fill="url(#gt)"/><path d="M174 41H226V105H118V65H174Z" fill="url(#gb)"/><path d="M174 41H226V65H174Z" fill="url(#gt)"/><g shape-rendering="crispEdges"><path d="M7.5 41.5H58.5V65.5H115.5V104.5H7.5Z" fill="none" stroke="#b80d0d"/><path d="M174.5 41.5H225.5V104.5H118.5V65.5H174.5Z" fill="none" stroke="#b80d0d"/><rect x="11" y="64" width="44" height="1" fill="#8a0000"/><rect x="178" y="64" width="44" height="1" fill="#8a0000"/><rect x="11" y="65" width="44" height="1" fill="#ff6464"/><rect x="178" y="65" width="44" height="1" fill="#ff6464"/><rect x="61" y="41" width="111" height="22" fill="#a9acb4"/><rect x="62" y="42" width="109" height="20" fill="#ffffff"/><rect x="63" y="43" width="19" height="18" fill="url(#gs)"/><rect x="82" y="42" width="1" height="20" fill="#a9acb4"/><rect x="152" y="43" width="18" height="18" fill="url(#gs)"/><rect x="150" y="42" width="1" height="20" fill="#a9acb4"/></g><path d="M69 50h5.2l-2.6 3z" fill="#4b5fc0"/><path d="M158.5 53.5h5.2l-2.6-3z" fill="#4b5fc0"/><text x="19.3" y="57" font-size="12" fill="#fff" textLength="25.1" lengthAdjust="spacingAndGlyphs">SELL</text><text x="187.8" y="57" font-size="12" fill="#fff" textLength="23.2" lengthAdjust="spacingAndGlyphs">BUY</text><text x="123.6" y="56" font-size="11.5" fill="#000" stroke="#000" stroke-width="0.12" textLength="23.2" lengthAdjust="spacingAndGlyphs">1.00</text><text x="27.3" y="96" font-size="12" fill="#fff" textLength="23" lengthAdjust="spacingAndGlyphs" font-weight="bold">1.32</text><text x="55.7" y="96" font-size="32.5" fill="#fff" textLength="33.2" lengthAdjust="spacingAndGlyphs">55</text><text x="94.2" y="80" font-size="12" fill="#fff" textLength="6.4" lengthAdjust="spacingAndGlyphs" font-weight="bold">7</text><text x="137.4" y="96" font-size="12" fill="#fff" textLength="23.2" lengthAdjust="spacingAndGlyphs" font-weight="bold">1.32</text><text x="166.8" y="96" font-size="32.5" fill="#fff" textLength="33" lengthAdjust="spacingAndGlyphs">58</text><text x="205.2" y="80" font-size="12" fill="#fff" textLength="6.7" lengthAdjust="spacingAndGlyphs" font-weight="bold">2</text><path d="M7 32.5L10.5 28.5L14 32.5Z" fill="#000"/><text x="19.8" y="33" font-size="9.8" fill="#000" stroke="#000" stroke-width="0.12" textLength="67.5" lengthAdjust="spacingAndGlyphs">USDCAD-,Daily</text><text x="94.9" y="33" font-size="9.5" fill="#000" stroke="#000" stroke-width="0.12" textLength="32" lengthAdjust="spacingAndGlyphs">1.32406</text><text x="130.5" y="33" font-size="9.5" fill="#000" stroke="#000" stroke-width="0.12" textLength="32" lengthAdjust="spacingAndGlyphs">1.32568</text><text x="166.7" y="33" font-size="9.5" fill="#000" stroke="#000" stroke-width="0.12" textLength="32" lengthAdjust="spacingAndGlyphs">1.32389</text><text x="202.3" y="33" font-size="9.5" fill="#000" stroke="#000" stroke-width="0.12" textLength="32" lengthAdjust="spacingAndGlyphs">1.32557</text><svg x="4" y="563" width="1415" height="102" viewBox="4 563 1415 102" overflow="hidden"><g shape-rendering="crispEdges"><path fill="#c0c0c0" d="M4 598h1v20h-1zM8 600h1v18h-1zM12 600h1v18h-1zM16 601h1v17h-1zM20 602h1v16h-1zM24 602h1v16h-1zM28 603h1v15h-1zM32 602h1v16h-1zM36 599h1v19h-1zM40 598h1v20h-1zM44 595h1v23h-1zM48 594h1v24h-1zM52 592h1v26h-1zM56 594h1v24h-1zM60 596h1v22h-1zM64 599h1v19h-1zM68 600h1v18h-1zM72 596h1v22h-1zM76 596h1v22h-1zM80 598h1v20h-1zM84 598h1v20h-1zM88 598h1v20h-1zM92 598h1v20h-1zM96 596h1v22h-1zM100 595h1v23h-1zM104 595h1v23h-1zM108 595h1v23h-1zM112 595h1v23h-1zM116 599h1v19h-1zM120 600h1v18h-1zM124 597h1v21h-1zM128 593h1v25h-1zM132 595h1v23h-1zM136 595h1v23h-1zM140 592h1v26h-1zM144 591h1v27h-1zM148 592h1v26h-1zM152 592h1v26h-1zM156 592h1v26h-1zM160 592h1v26h-1zM164 591h1v27h-1zM168 589h1v29h-1zM172 587h1v31h-1zM176 584h1v34h-1zM180 579h1v39h-1zM184 576h1v42h-1zM188 574h1v44h-1zM192 572h1v46h-1zM196 573h1v45h-1zM200 572h1v46h-1zM204 571h1v47h-1zM208 571h1v47h-1zM212 571h1v47h-1zM216 571h1v47h-1zM220 571h1v47h-1zM224 579h1v39h-1zM228 589h1v29h-1zM232 598h1v20h-1zM236 608h1v10h-1zM240 618h1v2h-1zM244 618h1v11h-1zM248 618h1v17h-1zM252 618h1v21h-1zM256 618h1v23h-1zM260 618h1v25h-1zM264 618h1v26h-1zM268 618h1v27h-1zM272 618h1v26h-1zM276 618h1v26h-1zM280 618h1v26h-1zM284 618h1v24h-1zM288 618h1v20h-1zM292 618h1v19h-1zM296 618h1v15h-1zM300 618h1v18h-1zM304 618h1v20h-1zM308 618h1v20h-1zM312 618h1v19h-1zM316 618h1v23h-1zM320 618h1v27h-1zM324 618h1v31h-1zM328 618h1v33h-1zM332 618h1v34h-1zM336 618h1v34h-1zM340 618h1v30h-1zM344 618h1v23h-1zM348 618h1v19h-1zM352 618h1v15h-1zM356 618h1v10h-1zM360 618h1v10h-1zM364 618h1v8h-1zM368 618h1v5h-1zM372 618h1v5h-1zM376 618h1v5h-1zM380 618h1v5h-1zM384 618h1v6h-1zM388 618h1v8h-1zM392 618h1v8h-1zM396 618h1v11h-1zM400 618h1v14h-1zM404 618h1v13h-1zM408 618h1v14h-1zM412 618h1v15h-1zM416 618h1v15h-1zM420 618h1v9h-1zM424 618h1v5h-1zM428 617h1v1h-1zM432 612h1v6h-1zM436 605h1v13h-1zM440 599h1v19h-1zM444 596h1v22h-1zM448 594h1v24h-1zM452 593h1v25h-1zM456 595h1v23h-1zM460 598h1v20h-1zM464 600h1v18h-1zM468 601h1v17h-1zM472 602h1v16h-1zM476 603h1v15h-1zM480 605h1v13h-1zM484 608h1v10h-1zM488 607h1v11h-1zM492 604h1v14h-1zM496 603h1v15h-1zM500 602h1v16h-1zM504 603h1v15h-1zM508 602h1v16h-1zM512 601h1v17h-1zM516 603h1v15h-1zM520 605h1v13h-1zM524 609h1v9h-1zM528 609h1v9h-1zM532 611h1v7h-1zM536 611h1v7h-1zM540 610h1v8h-1zM544 611h1v7h-1zM548 613h1v5h-1zM552 615h1v3h-1zM556 617h1v1h-1zM560 615h1v3h-1zM564 616h1v2h-1zM568 617h1v1h-1zM572 616h1v2h-1zM576 616h1v2h-1zM580 616h1v2h-1zM584 616h1v2h-1zM588 615h1v3h-1zM592 615h1v3h-1zM596 613h1v5h-1zM600 608h1v10h-1zM604 605h1v13h-1zM608 603h1v15h-1zM612 602h1v16h-1zM616 602h1v16h-1zM620 605h1v13h-1zM624 605h1v13h-1zM628 604h1v14h-1zM632 605h1v13h-1zM636 604h1v14h-1zM640 604h1v14h-1zM644 604h1v14h-1zM648 604h1v14h-1zM652 604h1v14h-1zM656 606h1v12h-1zM660 607h1v11h-1zM664 607h1v11h-1zM668 608h1v10h-1zM672 609h1v9h-1zM676 609h1v9h-1zM680 610h1v8h-1zM684 610h1v8h-1zM688 612h1v6h-1zM692 614h1v4h-1zM696 614h1v4h-1zM700 613h1v5h-1zM704 614h1v4h-1zM708 614h1v4h-1zM712 614h1v4h-1zM716 613h1v5h-1zM720 610h1v8h-1zM724 608h1v10h-1zM728 607h1v11h-1zM732 606h1v12h-1zM736 609h1v9h-1zM740 613h1v5h-1zM744 615h1v3h-1zM748 618h1v2h-1zM752 618h1v9h-1zM756 618h1v14h-1zM760 618h1v18h-1zM764 618h1v21h-1zM768 618h1v20h-1zM772 618h1v20h-1zM776 618h1v16h-1zM780 618h1v13h-1zM784 618h1v10h-1zM788 618h1v9h-1zM792 618h1v13h-1zM796 618h1v19h-1zM800 618h1v23h-1zM804 618h1v26h-1zM808 618h1v28h-1zM812 618h1v30h-1zM816 618h1v34h-1zM820 618h1v37h-1zM824 618h1v40h-1zM828 618h1v42h-1zM832 618h1v40h-1zM836 618h1v41h-1zM840 618h1v42h-1zM844 618h1v43h-1zM848 618h1v42h-1zM852 618h1v40h-1zM856 618h1v38h-1zM860 618h1v35h-1zM864 618h1v34h-1zM868 618h1v33h-1zM872 618h1v34h-1zM876 618h1v34h-1zM880 618h1v32h-1zM884 618h1v30h-1zM888 618h1v29h-1zM892 618h1v28h-1zM896 618h1v26h-1zM900 618h1v25h-1zM904 618h1v20h-1zM908 618h1v16h-1zM912 618h1v13h-1zM916 618h1v9h-1zM920 618h1v6h-1zM924 618h1v3h-1zM928 618h1v1h-1zM932 618h1v1h-1zM936 615h1v3h-1zM940 612h1v6h-1zM944 611h1v7h-1zM948 609h1v9h-1zM952 608h1v10h-1zM956 605h1v13h-1zM960 601h1v17h-1zM964 601h1v17h-1zM968 603h1v15h-1zM972 603h1v15h-1zM976 604h1v14h-1zM980 605h1v13h-1zM984 602h1v16h-1zM988 599h1v19h-1zM992 600h1v18h-1zM996 600h1v18h-1zM1000 598h1v20h-1zM1004 598h1v20h-1zM1008 598h1v20h-1zM1012 599h1v19h-1zM1016 600h1v18h-1zM1020 600h1v18h-1zM1024 602h1v16h-1zM1028 603h1v15h-1zM1032 603h1v15h-1zM1036 604h1v14h-1zM1040 604h1v14h-1zM1044 604h1v14h-1zM1048 603h1v15h-1zM1052 603h1v15h-1zM1056 607h1v11h-1zM1060 610h1v8h-1zM1064 615h1v3h-1zM1068 618h1v3h-1zM1072 618h1v6h-1zM1076 618h1v9h-1zM1080 618h1v10h-1zM1084 618h1v10h-1zM1088 618h1v6h-1zM1092 618h1v7h-1zM1096 618h1v5h-1zM1100 618h1v4h-1zM1104 618h1v1h-1zM1108 618h1v1h-1zM1112 616h1v2h-1zM1116 616h1v2h-1zM1120 615h1v3h-1zM1124 616h1v2h-1zM1128 616h1v2h-1z"/></g><path fill="none" stroke="#ff0000" stroke-dasharray="3 3" shape-rendering="crispEdges" d="M4,601.3 L8,600.9 L12,600.6 L16,600.4 L20,600.5 L24,600.5 L28,600.7 L32,600.9 L36,600.8 L40,600.8 L44,600.3 L48,599.6 L52,598.6 L56,597.8 L60,597.1 L64,596.7 L68,596.4 L72,596.1 L76,595.8 L80,596.2 L84,596.6 L88,597.3 L92,597.7 L96,597.6 L100,597.2 L104,596.7 L108,596.6 L112,596.5 L116,596.6 L120,596.9 L124,596.7 L128,596.2 L132,596.1 L136,596.0 L140,595.6 L144,595.2 L148,594.8 L152,594.0 L156,593.2 L160,592.7 L164,592.5 L168,591.8 L172,591.0 L176,590.1 L180,588.8 L184,587.1 L188,585.0 L192,582.8 L196,580.6 L200,578.5 L204,576.4 L208,574.7 L212,573.2 L216,572.2 L220,571.6 L224,572.2 L228,574.0 L232,576.8 L236,580.9 L240,586.2 L244,592.6 L248,599.6 L252,607.1 L256,614.8 L260,621.8 L264,627.9 L268,632.9 L272,636.8 L276,639.5 L280,641.1 L284,641.8 L288,641.7 L292,641.2 L296,640.2 L300,639.3 L304,638.5 L308,637.7 L312,636.9 L316,636.6 L320,636.9 L324,638.2 L328,639.8 L332,641.9 L336,643.7 L340,644.9 L344,645.3 L348,645.3 L352,644.4 L356,642.5 L360,640.2 L364,637.4 L368,634.1 L372,630.8 L376,628.0 L380,626.0 L384,624.6 L388,623.9 L392,623.6 L396,623.7 L400,624.4 L404,625.3 L408,626.3 L412,627.4 L416,628.5 L420,628.8 L424,628.4 L428,627.5 L432,625.8 L436,622.9 L440,619.5 L444,615.6 L448,611.4 L452,607.1 L456,603.7 L460,601.0 L464,599.1 L468,597.9 L472,597.6 L476,598.1 L480,599.0 L484,600.6 L488,602.1 L492,603.2 L496,603.7 L500,603.9 L504,604.1 L508,604.1 L512,603.8 L516,603.6 L520,603.3 L524,603.5 L528,604.1 L532,605.0 L536,605.9 L540,606.8 L544,607.7 L548,609.2 L552,610.5 L556,611.7 L560,612.4 L564,613.2 L568,614.0 L572,614.6 L576,615.2 L580,615.8 L584,616.1 L588,616.1 L592,615.9 L596,615.6 L600,614.7 L604,613.3 L608,611.9 L612,610.3 L616,608.8 L620,607.6 L624,606.5 L628,605.2 L632,604.3 L636,603.8 L640,603.7 L644,603.8 L648,604.0 L652,604.2 L656,604.4 L660,604.7 L664,605.0 L668,605.4 L672,605.9 L676,606.4 L680,607.0 L684,607.8 L688,608.6 L692,609.5 L696,610.2 L700,610.9 L704,611.6 L708,612.2 L712,612.9 L716,613.2 L720,613.2 L724,612.8 L728,612.0 L732,611.0 L736,610.5 L740,610.4 L744,610.5 L748,611.0 L752,612.5 L756,614.8 L760,617.8 L764,621.3 L768,624.8 L772,627.9 L776,630.2 L780,631.8 L784,632.7 L788,632.8 L792,632.7 L796,632.8 L800,633.0 L804,633.6 L808,634.5 L812,636.1 L816,638.5 L820,641.6 L824,645.0 L828,648.1 L832,650.5 L836,652.5 L840,654.2 L844,655.8 L848,657.1 L852,657.8 L856,657.8 L860,657.2 L864,656.4 L868,655.5 L872,654.8 L876,653.8 L880,652.7 L884,651.4 L888,650.1 L892,649.0 L896,648.1 L900,647.1 L904,645.7 L908,643.7 L912,641.5 L916,638.9 L920,636.2 L924,633.4 L928,630.5 L932,627.6 L936,624.6 L940,621.9 L944,619.3 L948,617.0 L952,615.0 L956,613.0 L960,610.8 L964,608.9 L968,607.2 L972,605.9 L976,604.9 L980,604.2 L984,603.4 L988,602.4 L992,601.9 L996,601.9 L1000,601.6 L1004,601.0 L1008,600.5 L1012,600.0 L1016,599.4 L1020,599.2 L1024,599.5 L1028,599.8 L1032,600.1 L1036,600.8 L1040,601.5 L1044,602.0 L1048,602.5 L1052,602.8 L1056,603.6 L1060,604.5 L1064,605.9 L1068,607.7 L1072,609.8 L1076,612.2 L1080,614.9 L1084,617.5 L1088,619.8 L1092,621.7 L1096,623.0 L1100,623.7 L1104,623.5 L1108,623.0 L1112,621.9 L1116,620.6 L1120,619.3 L1124,618.5 L1128,617.7"/></svg><text x="8.5" y="575" font-size="9.5" fill="#000" stroke="#000" stroke-width="0.12" textLength="150" lengthAdjust="spacingAndGlyphs">MACD(12,26,9) 0.000316 -0.000029</text><svg x="4" y="668" width="1415" height="129" viewBox="4 668 1415 129" overflow="hidden"><g shape-rendering="crispEdges"><path stroke="#c0c0c0" stroke-dasharray="3 3" d="M5 707.5H1419M5 758.5H1419"/></g><path fill="none" stroke="#1e90ff" shape-rendering="crispEdges" d="M4,715.7 L8,727.6 L12,724.6 L16,727.2 L20,725.2 L24,724.6 L28,724.9 L32,720.4 L36,712.2 L40,715.8 L44,710.2 L48,714.3 L52,711.5 L56,725.9 L60,727.2 L64,730.0 L68,726.0 L72,711.4 L76,723.5 L80,728.4 L84,724.0 L88,724.2 L92,721.6 L96,717.1 L100,720.6 L104,720.9 L108,718.9 L112,721.3 L116,733.9 L120,726.2 L124,715.8 L128,713.4 L132,727.9 L136,723.5 L140,717.7 L144,720.3 L148,723.8 L152,723.6 L156,721.5 L160,720.1 L164,717.6 L168,713.7 L172,712.0 L176,709.9 L180,703.4 L184,703.2 L188,704.0 L192,704.2 L196,707.0 L200,704.5 L204,701.7 L208,707.0 L212,704.4 L216,703.1 L220,702.2 L224,734.4 L228,743.3 L232,745.5 L236,751.5 L240,755.4 L244,757.5 L248,753.4 L252,748.7 L256,748.8 L260,747.5 L264,749.4 L268,749.4 L272,745.6 L276,747.3 L280,745.1 L284,741.3 L288,731.5 L292,739.0 L296,731.8 L300,746.1 L304,746.7 L308,740.9 L312,739.4 L316,751.7 L320,753.1 L324,756.0 L328,754.1 L332,751.3 L336,749.6 L340,736.4 L344,725.8 L348,730.8 L352,729.8 L356,727.0 L360,735.6 L364,732.2 L368,727.9 L372,733.8 L376,734.9 L380,735.3 L384,738.3 L388,742.9 L392,735.1 L396,744.5 L400,745.1 L404,737.7 L408,740.1 L412,742.2 L416,739.2 L420,723.4 L424,725.5 L428,722.8 L432,718.7 L436,711.7 L440,711.6 L444,716.8 L448,715.7 L452,721.3 L456,725.2 L460,732.6 L464,729.5 L468,727.7 L472,727.9 L476,728.1 L480,730.6 L484,735.9 L488,724.6 L492,719.7 L496,719.4 L500,723.4 L504,726.0 L508,721.5 L512,719.2 L516,731.9 L520,732.7 L524,737.6 L528,730.0 L532,732.9 L536,729.9 L540,726.6 L544,729.8 L548,738.3 L552,735.6 L556,737.5 L560,728.4 L564,734.9 L568,734.7 L572,729.4 L576,731.3 L580,732.4 L584,729.1 L588,727.6 L592,733.9 L596,721.3 L600,713.9 L604,717.0 L608,720.3 L612,720.2 L616,722.0 L620,733.2 L624,725.9 L628,721.9 L632,727.9 L636,723.1 L640,727.1 L644,723.9 L648,723.7 L652,726.1 L656,733.1 L660,729.5 L664,724.1 L668,729.0 L672,730.8 L676,727.2 L680,731.1 L684,730.6 L688,733.9 L692,738.4 L696,731.5 L700,725.5 L704,731.7 L708,732.2 L712,731.9 L716,722.9 L720,719.1 L724,716.6 L728,719.5 L732,719.5 L736,736.2 L740,743.7 L744,738.0 L748,747.1 L752,755.7 L756,755.7 L760,756.2 L764,752.9 L768,742.5 L772,743.4 L776,729.2 L780,729.8 L784,730.0 L788,736.4 L792,748.8 L796,756.3 L800,752.0 L804,752.8 L808,754.3 L812,754.8 L816,759.7 L820,761.8 L824,762.9 L828,760.6 L832,751.5 L836,755.2 L840,758.9 L844,759.6 L848,751.9 L852,752.7 L856,747.7 L860,742.9 L864,749.7 L868,750.2 L872,754.3 L876,753.4 L880,750.2 L884,742.3 L888,747.0 L892,749.5 L896,743.5 L900,743.7 L904,731.0 L908,729.3 L912,728.9 L916,725.8 L920,723.8 L924,724.4 L928,725.7 L932,729.7 L936,720.9 L940,717.9 L944,718.6 L948,720.8 L952,718.6 L956,708.4 L960,704.5 L964,724.7 L968,728.3 L972,726.6 L976,723.7 L980,727.9 L984,714.9 L988,714.2 L992,723.7 L996,723.7 L1000,715.8 L1004,718.4 L1008,724.0 L1012,722.7 L1016,723.3 L1020,720.2 L1024,732.1 L1028,726.7 L1032,723.8 L1036,727.9 L1040,722.6 L1044,722.8 L1048,720.7 L1052,719.7 L1056,740.3 L1060,739.3 L1064,746.7 L1068,747.5 L1072,746.9 L1076,750.0 L1080,742.4 L1084,737.0 L1088,726.0 L1092,736.1 L1096,732.0 L1100,732.0 L1104,724.3 L1108,730.6 L1112,728.1 L1116,729.7 L1120,730.4 L1124,734.1 L1128,731.4"/></svg><text x="8.2" y="680" font-size="9.5" fill="#000" stroke="#000" stroke-width="0.12" textLength="67.5" lengthAdjust="spacingAndGlyphs">RSI(14) 51.1016</text><g shape-rendering="crispEdges"><rect x="113" y="824" width="1" height="12" fill="#6a6a6a"/><rect x="221" y="824" width="1" height="12" fill="#6a6a6a"/><rect x="549" y="824" width="1" height="12" fill="#6a6a6a"/><rect x="669" y="824" width="1" height="12" fill="#6a6a6a"/><rect x="777" y="824" width="1" height="12" fill="#6a6a6a"/><rect x="873" y="824" width="1" height="12" fill="#6a6a6a"/><rect x="953" y="824" width="1" height="12" fill="#6a6a6a"/><rect x="1057" y="824" width="1" height="12" fill="#6a6a6a"/><rect x="1177" y="824" width="1" height="12" fill="#6a6a6a"/><rect x="329" y="820" width="108" height="18" fill="#ffffff"/><rect x="329" y="820" width="1" height="18" fill="#000"/><rect x="436" y="820" width="1" height="18" fill="#000"/><rect x="329" y="837" width="108" height="1" fill="#000"/></g><text x="16.4" y="835" font-size="12" fill="#6d6d6d" textLength="84.2" lengthAdjust="spacingAndGlyphs">EURUSD-,Daily</text><text x="123" y="835" font-size="12" fill="#6d6d6d" textLength="86.9" lengthAdjust="spacingAndGlyphs">AUDUSD-,Daily</text><text x="233.2" y="835" font-size="12" fill="#6d6d6d" textLength="83.9" lengthAdjust="spacingAndGlyphs">USDCHF-,Daily</text><text x="340.3" y="835" font-size="12" fill="#000" stroke="#000" stroke-width="0.12" textLength="85.6" lengthAdjust="spacingAndGlyphs">USDCAD-,Daily</text><text x="449" y="835" font-size="12" fill="#6d6d6d" textLength="87.6" lengthAdjust="spacingAndGlyphs">USDCNH-,Daily</text><text x="560.7" y="835" font-size="12" fill="#6d6d6d" textLength="96.5" lengthAdjust="spacingAndGlyphs">EURCHF-,Weekly</text><text x="680" y="835" font-size="12" fill="#6d6d6d" textLength="86.3" lengthAdjust="spacingAndGlyphs">XAUUSD-,Daily</text><text x="788.3" y="835" font-size="12" fill="#6d6d6d" textLength="72.5" lengthAdjust="spacingAndGlyphs">GBPUSD-,H1</text><text x="884.4" y="835" font-size="12" fill="#6d6d6d" textLength="56" lengthAdjust="spacingAndGlyphs">UKOil-,H1</text><text x="963" y="835" font-size="12" fill="#6d6d6d" textLength="82.6" lengthAdjust="spacingAndGlyphs">USDX-,Weekly</text><text x="1068.3" y="835" font-size="12" fill="#6d6d6d" textLength="96.7" lengthAdjust="spacingAndGlyphs">EURCHF-,Weekly</text><path d="M1439 825v8l-4-4z" fill="#a0a0a0"/><path d="M1453 825v8l4-4z" fill="#a0a0a0"/></svg></body></html>
